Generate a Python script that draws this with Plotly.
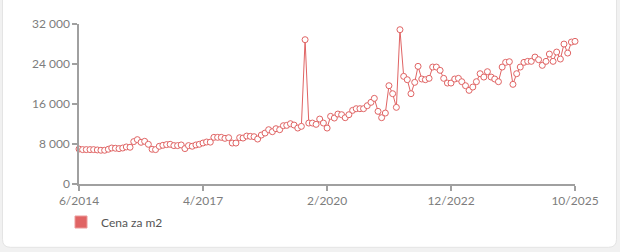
import pandas as pd
import plotly.graph_objects as go

# Monthly price per m2, 6/2014 .. 10/2025
START = "2014-06-01"
PRICES = [
    7000, 6880, 6880, 6880, 6880, 6810, 6750, 6750, 6950, 7200,
    7150, 7080, 7200, 7410, 7350, 8480, 8870, 8340, 8540, 7940,
    6950, 6880, 7540, 7740, 7880, 7940, 7680, 7680, 7810, 7080,
    7680, 7550, 7810, 7940, 8200, 8400, 8370, 9330, 9330, 9330,
    9130, 9260, 8190, 8190, 9260, 9190, 9590, 9530, 9460, 8990,
    9790, 10190, 10860, 10460, 11060, 10860, 11660, 11730, 12060, 11790,
    11190, 11530, 28860, 12190, 12190, 11930, 12990, 12190, 11190, 13530,
    13190, 13990, 13860, 13260, 13860, 14730, 15060, 15060, 15060, 15660,
    16330, 17130, 14530, 13260, 14190, 19660, 18060, 15330, 30860, 21530,
    20860, 18060, 20330, 23530, 21000, 20860, 21130, 23390, 23390, 22730,
    21130, 20190, 20190, 21000, 21130, 20460, 19660, 18730, 19390, 20460,
    22060, 21390, 22460, 21390, 21000, 20460, 23390, 24330, 24460, 19930,
    22060, 23390, 24330, 24530, 24530, 25390, 24860, 23730, 24530, 25990,
    24530, 26390, 24990, 27990, 26190, 28390, 28530,
]
MONTHS = pd.date_range(START, periods=len(PRICES), freq="MS")

X_TICK_DATES = ["2014-06-01", "2017-04-01", "2020-02-01", "2022-12-01", "2025-10-01"]
X_TICK_LABELS = ["6/2014", "4/2017", "2/2020", "12/2022", "10/2025"]
Y_TICK_VALUES = [0, 8000, 16000, 24000, 32000]
Y_TICK_LABELS = ["0", "8 000", "16 000", "24 000", "32 000"]
SERIES_NAME = "Cena za m2"

RED = "#e06464"
AXIS = "#a0a0a0"
TXT = "#7d7d7d"

W, H = 620, 252
L, R, T, B = 79, 45, 24, 67.5
PW, PH = W - L - R, H - T - B


def px(x):
    return (x - L) / PW


def py(y):
    return (H - B - y) / PH


fig = go.Figure()
fig.add_trace(go.Scatter(
    x=MONTHS, y=PRICES, mode="lines+markers", name=SERIES_NAME,
    line=dict(color=RED, width=1),
    marker=dict(symbol="circle", size=6, color="white", line=dict(color=RED, width=1)),
    cliponaxis=False, showlegend=False,
))
fig.add_trace(go.Scatter(
    x=[None], y=[None], mode="markers", name=SERIES_NAME,
    marker=dict(symbol="square", size=12, color=RED, line=dict(color="#ec9a9a", width=1)),
    showlegend=True,
))

# card with rounded corners
cl, cr, ct, cb, rad = 2.5, 616.5, -10, 248, 8
path = (f"M {px(cl)},{py(ct)} L {px(cr)},{py(ct)} L {px(cr)},{py(cb - rad)} "
        f"Q {px(cr)},{py(cb)} {px(cr - rad)},{py(cb)} L {px(cl + rad)},{py(cb)} "
        f"Q {px(cl)},{py(cb)} {px(cl)},{py(cb - rad)} Z")
fig.add_shape(type="path", path=path, xref="paper", yref="paper",
              fillcolor="white", line=dict(color="#e4e4e4", width=1), layer="below")

fig.update_layout(
    width=W, height=H,
    margin=dict(l=L, r=R, t=T, b=B, autoexpand=False),
    paper_bgcolor="#f1f1f1", plot_bgcolor="rgba(0,0,0,0)",
    font=dict(family="Lato, sans-serif", size=12, color=TXT),
    showlegend=True,
    legend=dict(
        xref="container", yref="container", x=61 / W, y=1 - 222 / H,
        xanchor="left", yanchor="middle", orientation="h",
        font=dict(size=12, color="#555555"), bgcolor="rgba(0,0,0,0)",
    ),
)
fig.update_xaxes(
    type="date", range=[X_TICK_DATES[0], X_TICK_DATES[-1]],
    tickvals=X_TICK_DATES, ticktext=X_TICK_LABELS,
    showgrid=False, zeroline=False, showline=True, linecolor=AXIS, linewidth=1.5,
    ticks="outside", ticklen=5, tickcolor=AXIS, tickwidth=1.5,
    tickfont=dict(size=12, color=TXT),
)
fig.update_yaxes(
    range=[0, 32000], tickvals=Y_TICK_VALUES, ticktext=Y_TICK_LABELS,
    showgrid=False, zeroline=False, showline=True, linecolor=AXIS, linewidth=1.5,
    ticks="outside", ticklen=5, tickcolor=AXIS, tickwidth=1.5,
    tickfont=dict(size=12, color=TXT),
)

fig.write_html("out.html")
